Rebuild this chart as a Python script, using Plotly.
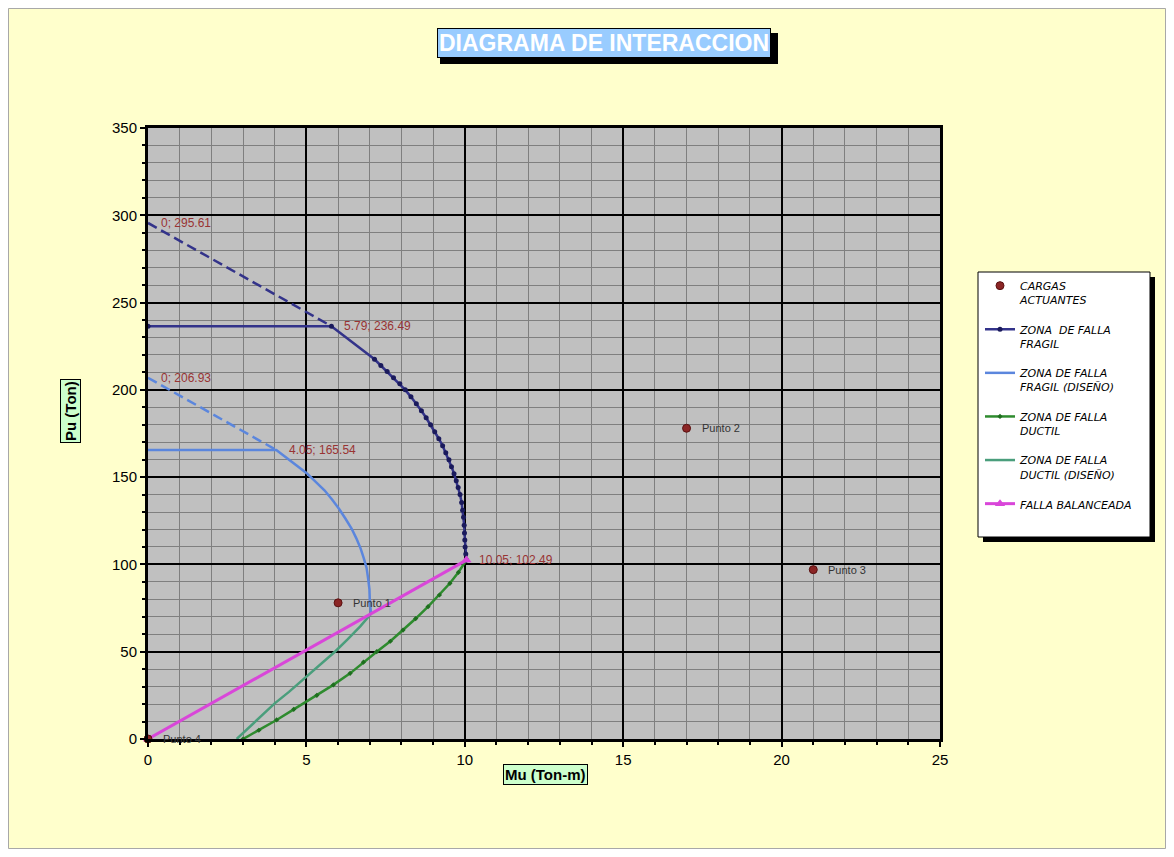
import plotly.graph_objects as go

# ---------------- data ----------------
# Cargas actuantes (load points)
cargas_x = [6, 17, 21, 0]
cargas_y = [78, 178, 97, 0]
cargas_lbl = ["Punto 1", "Punto 2", "Punto 3", "Punto 4"]

# Zona de falla fragil (nominal)
fragil_x = [0, 5.79, 7.15, 7.35, 7.55, 7.75, 7.95, 8.12, 8.30, 8.47, 8.63, 8.78, 8.92, 9.05,
            9.18, 9.30, 9.40, 9.50, 9.58, 9.66, 9.73, 9.79, 9.85, 9.90, 9.93, 9.96, 9.98,
            9.99, 10.00, 10.01, 10.03, 10.05]
fragil_y = [236.49, 236.49, 217.5, 214, 210.5, 207, 203.5, 200, 196, 192, 188, 184, 180, 176,
            172, 168, 164, 160, 156, 152, 148, 144, 140, 135.5, 131, 127, 122.5,
            118, 114, 110, 106, 102.49]
fragil_dash_x = [0, 5.79]
fragil_dash_y = [295.61, 236.49]

# Zona de falla fragil (diseno)
disfr_x = [0, 4.05, 5.01, 5.29, 5.57, 5.81, 6.04, 6.24, 6.43, 6.58, 6.71, 6.81, 6.90,
           6.95, 6.99, 7.00, 7.02, 7.04]
disfr_y = [165.54, 165.54, 152.25, 147.35, 142.45, 137.2, 131.6, 126, 120.4, 114.8, 109.2,
           103.6, 98, 91.7, 85.75, 79.8, 74.2, 71.74]
disfr_dash_x = [0, 4.05]
disfr_dash_y = [206.93, 165.54]

# Zona de falla ductil (nominal)
ductil_x = [3.0, 3.5, 4.06, 4.6, 5.33, 5.85, 6.38, 6.8, 7.22, 7.65, 8.05, 8.45, 8.84, 9.2,
            9.53, 9.8, 10.05]
ductil_y = [0, 5, 10.9, 17, 25, 31, 37.6, 44, 50, 56, 62.4, 69, 75.8, 82.5, 89.2, 95.5, 102.49]

# Zona de falla ductil (diseno)
disdu_x = [2.8, 3.2, 3.6, 4.0, 4.45, 4.9, 5.4, 5.9, 6.3, 6.7, 7.04]
disdu_y = [0, 6.8, 13.5, 20.4, 27, 34, 42, 50, 57, 64.5, 71.74]

# Falla balanceada
bal_x = [0, 10.05]
bal_y = [0, 102.49]

# Etiquetas de puntos notables
lbl_x = [0, 5.79, 0, 4.05, 10.05]
lbl_y = [295.61, 236.49, 206.93, 165.54, 102.49]

# ---------------- layout geometry ----------------
# page body has an 8px margin, so the figure is placed at (8, 8) in the window
OFF = 8
W, H = 1174 - 2 * OFF, 857 - 2 * OFF
PL, PR, PT, PB = 148, 940, 128, 739          # plot area in window pixels
L, R, T, B = PL - OFF, W - (PR - OFF), PT - OFF, H - (PB - OFF)
PW, PH = PR - PL, PB - PT


def px_x(p):
    return (p - PL) / PW


def px_y(p):
    return (PB - p) / PH


FONT = "Liberation Sans, Arial, sans-serif"
LFONT = "DejaVu Sans, Verdana, sans-serif"
NAVY = "#33338A"
BLUE = "#5B86DD"
GREEN = "#2E8B2E"
TEAL = "#4A9E7C"
PINK = "#D946D9"
RED = "#8B2525"

fig = go.Figure()

# dashed helper lines
fig.add_trace(go.Scatter(x=fragil_dash_x, y=fragil_dash_y, mode="lines",
                         line=dict(color=NAVY, width=2.5, dash="10px,5px"),
                         showlegend=False, hoverinfo="skip", cliponaxis=False))
fig.add_trace(go.Scatter(x=disfr_dash_x, y=disfr_dash_y, mode="lines",
                         line=dict(color=BLUE, width=2.5, dash="10px,5px"),
                         showlegend=False, hoverinfo="skip", cliponaxis=False))

fig.add_trace(go.Scatter(x=disfr_x, y=disfr_y, mode="lines", name="ZONA DE FALLA<br>FRAGIL (DISEÑO)",
                         line=dict(color=BLUE, width=2.5), legendrank=3, legendgroup="g3",
                         cliponaxis=False))
fig.add_trace(go.Scatter(x=disdu_x, y=disdu_y, mode="lines", name="ZONA DE FALLA<br>DUCTIL (DISEÑO)",
                         line=dict(color=TEAL, width=2.5), legendrank=5, legendgroup="g5",
                         cliponaxis=False))
fig.add_trace(go.Scatter(x=ductil_x, y=ductil_y, mode="lines+markers", name="ZONA DE FALLA<br>DUCTIL",
                         line=dict(color=GREEN, width=2.5),
                         marker=dict(color="#1F6E1F", size=4, symbol="diamond"),
                         legendrank=4, legendgroup="g4", cliponaxis=False))
fig.add_trace(go.Scatter(x=fragil_x, y=fragil_y, mode="lines+markers", name="ZONA  DE FALLA<br>FRAGIL",
                         line=dict(color=NAVY, width=2.5),
                         marker=dict(color="#1A1A5C", size=5),
                         legendrank=2, legendgroup="g2", cliponaxis=False))
fig.add_trace(go.Scatter(x=bal_x, y=bal_y, mode="lines+markers", name="FALLA BALANCEADA",
                         line=dict(color=PINK, width=3),
                         marker=dict(color=PINK, size=9, symbol="triangle-up"),
                         legendrank=6, legendgroup="g6", cliponaxis=False))
fig.add_trace(go.Scatter(x=cargas_x, y=cargas_y, mode="markers", name="CARGAS<br>ACTUANTES",
                         marker=dict(color=RED, size=8, line=dict(color="#5A1010", width=1)),
                         legendrank=1, legendgroup="g1", cliponaxis=False))

annotations = []
# title
annotations.append(dict(
    x=px_x(603.5), y=px_y(43.5), xref="paper", yref="paper", showarrow=False,
    xanchor="center", yanchor="middle",
    text="<b>DIAGRAMA DE INTERACCION</b>",
    font=dict(family=FONT, size=23, color="white"),
    bgcolor="#99CCFF", bordercolor="black", borderwidth=1, borderpad=1))
# axis titles
annotations.append(dict(x=px_x(70), y=px_y(411), xref="paper", yref="paper", showarrow=False,
                        xanchor="center", yanchor="middle",
                        text="<b>Pu (Ton)</b>", textangle=-90,
                        font=dict(family=FONT, size=15, color="black"),
                        bgcolor="#CCFFCC", bordercolor="black", borderwidth=1, borderpad=1))
annotations.append(dict(x=px_x(545.5), y=px_y(774.5), xref="paper", yref="paper", showarrow=False,
                        xanchor="center", yanchor="middle",
                        text="<b>Mu (Ton-m)</b>",
                        font=dict(family=FONT, size=15, color="black"),
                        bgcolor="#CCFFCC", bordercolor="black", borderwidth=1, borderpad=1))
# data labels of key points
for xv, yv in zip(lbl_x, lbl_y):
    annotations.append(dict(x=xv, y=yv, xref="x", yref="y", showarrow=False,
                            text=f"{xv:g}; {yv:.2f}", xanchor="left", yanchor="middle", xshift=11,
                            font=dict(family=FONT, size=12, color="#993333")))
# load point labels
for xv, yv, t in zip(cargas_x, cargas_y, cargas_lbl):
    annotations.append(dict(x=xv, y=yv, xref="x", yref="y", showarrow=False,
                            text=t, xanchor="left", yanchor="middle", xshift=13,
                            font=dict(family=FONT, size=11, color="#333333")))

shapes = [
    # thin gray border round the chart area
    dict(type="rect", xref="paper", yref="paper", layer="below",
         x0=px_x(8.5), x1=px_x(1165.5), y0=px_y(848.5), y1=px_y(8.5),
         fillcolor="rgba(0,0,0,0)", line=dict(color="#A8A8A8", width=1)),
    # title shadow
    dict(type="rect", xref="paper", yref="paper", layer="below",
         x0=px_x(440), x1=px_x(778), y0=px_y(64), y1=px_y(33),
         fillcolor="black", line=dict(width=0)),
    # legend shadow and box
    dict(type="rect", xref="paper", yref="paper", layer="below",
         x0=px_x(983), x1=px_x(1155), y0=px_y(542), y1=px_y(277),
         fillcolor="black", line=dict(width=0)),
    dict(type="rect", xref="paper", yref="paper", layer="below",
         x0=px_x(978), x1=px_x(1150), y0=px_y(537), y1=px_y(272),
         fillcolor="white", line=dict(color="black", width=1)),
]

axis_common = dict(
    showgrid=True, gridcolor="black", gridwidth=1.5,
    showline=True, linecolor="black", linewidth=3, mirror=True,
    ticks="outside", ticklen=5, tickwidth=2, tickcolor="black",
    tickfont=dict(family=FONT, size=15, color="black"),
    zeroline=False, fixedrange=True,
)

fig.update_layout(
    width=W, height=H,
    margin=dict(l=L, r=R, t=T, b=B, pad=0),
    paper_bgcolor="#FFFFCC", plot_bgcolor="#C0C0C0",
    xaxis=dict(range=[0, 25], dtick=5, tick0=0,
               minor=dict(dtick=1, showgrid=True, gridcolor="#7F7F7F", gridwidth=1,
                          ticks="outside", ticklen=3, tickcolor="black", tickwidth=1.5),
               **axis_common),
    yaxis=dict(range=[0, 350], dtick=50, tick0=0,
               minor=dict(dtick=10, showgrid=True, gridcolor="#7F7F7F", gridwidth=1,
                          ticks="outside", ticklen=3, tickcolor="black", tickwidth=1.5),
               **axis_common),
    showlegend=True,
    legend=dict(x=px_x(980), y=px_y(272), xanchor="left", yanchor="top",
                bgcolor="rgba(0,0,0,0)", borderwidth=0,
                font=dict(family=LFONT, size=11, color="black", style="italic"),
                traceorder="grouped", tracegroupgap=12, valign="top", itemwidth=30),
    annotations=annotations,
    shapes=shapes,
)

fig.write_html("out.html")
